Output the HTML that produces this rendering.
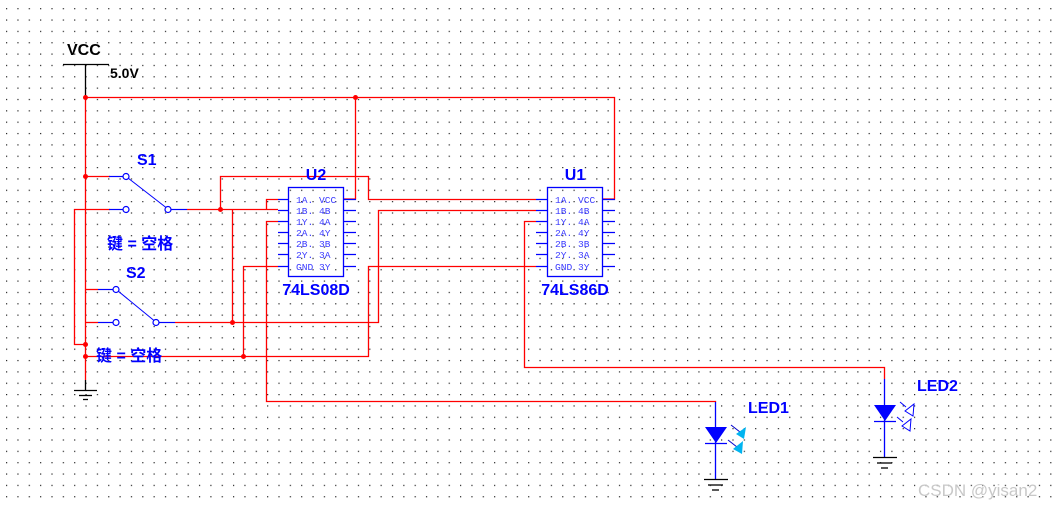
<!DOCTYPE html>
<html><head><meta charset="utf-8"><style>
html,body{margin:0;padding:0;background:#fff;}
svg{display:block;}
.lbl{font-family:"Liberation Sans",sans-serif;font-weight:bold;font-size:16px;fill:#0000ff;}
.pin{font-family:"Liberation Mono",monospace;font-size:9.6px;fill:#3a3aff;white-space:pre;}
.cn{font-family:"Liberation Sans","Noto Sans CJK SC",sans-serif;font-size:16px;font-weight:bold;fill:#0000ff;}
</style></head><body>
<svg width="1059" height="507" viewBox="0 0 1059 507" xmlns="http://www.w3.org/2000/svg">
<defs>
<pattern id="g" x="6" y="8.1" width="11.35" height="11.35" patternUnits="userSpaceOnUse">
<rect x="0" y="0" width="1.2" height="1.2" fill="#222"/>
</pattern>
</defs>
<rect width="1059" height="507" fill="#fff"/>
<rect width="1059" height="507" fill="url(#g)"/>

<text x="67" y="55" class="lbl" style="fill:#000">VCC</text>
<text x="110" y="78" class="lbl" style="fill:#000;font-size:14px">5.0V</text>
<g stroke="#000" stroke-width="1.3" fill="none">
<line x1="63" y1="64.5" x2="109" y2="64.5"/>
<line x1="85.5" y1="64" x2="85.5" y2="97"/>
<line x1="85.5" y1="380" x2="85.5" y2="390"/>
<line x1="74" y1="390.5" x2="97" y2="390.5"/>
<line x1="79" y1="395.5" x2="92" y2="395.5"/>
<line x1="83" y1="399.5" x2="88" y2="399.5"/>
</g>

<g stroke="#ff0000" stroke-width="1.3" fill="none">
<polyline points="85.5,97 85.5,380"/>
<polyline points="85.5,97.5 614.5,97.5 614.5,199 603,199"/>
<polyline points="355.5,97.5 355.5,199 344,199"/>
<polyline points="85.5,176.5 110,176.5"/>
<polyline points="110,209.5 74.5,209.5 74.5,344.5 85.5,344.5"/>
<polyline points="187,209.5 278,209.5"/>
<polyline points="220.5,209.5 220.5,176.5 368.5,176.5 368.5,199.5 536,199.5"/>
<polyline points="232.5,209.5 232.5,322.5"/>
<polyline points="278,199.5 266.5,199.5 266.5,209.5"/>
<polyline points="278,221.5 266.5,221.5 266.5,401.5 715.5,401.5 715.5,402"/>
<polyline points="278,266.5 243.5,266.5 243.5,356.5"/>
<polyline points="85.5,356.5 368.5,356.5 368.5,266.5 536,266.5"/>
<polyline points="85.5,289.5 98,289.5"/>
<polyline points="85.5,322.5 98,322.5"/>
<polyline points="175,322.5 378.5,322.5 378.5,210.5 536,210.5"/>
<polyline points="536,221.5 524.5,221.5 524.5,367.5 884.5,367.5 884.5,379"/>
</g>
<g fill="#ff0000">
<circle cx="85.5" cy="97.5" r="2.5"/><circle cx="355.5" cy="97.5" r="2.5"/>
<circle cx="85.5" cy="176.5" r="2.5"/><circle cx="220.5" cy="209.5" r="2.5"/>
<circle cx="232.5" cy="322.5" r="2.5"/><circle cx="85.5" cy="344.5" r="2.5"/>
<circle cx="85.5" cy="356.5" r="2.5"/><circle cx="243.5" cy="356.5" r="2.5"/>
</g>

<g stroke="#0000ff" stroke-width="1.2" fill="#fff">
<line x1="109" y1="176.5" x2="123" y2="176.5"/>
<line x1="109" y1="209.5" x2="123" y2="209.5"/>
<line x1="171" y1="209.5" x2="187" y2="209.5"/>
<line x1="128" y1="178" x2="166" y2="207.5" stroke-width="1"/>
<circle cx="126" cy="176.5" r="3"/><circle cx="126" cy="209.5" r="3"/><circle cx="168" cy="209.5" r="3"/>
<line x1="98" y1="289.5" x2="113" y2="289.5"/>
<line x1="98" y1="322.5" x2="113" y2="322.5"/>
<line x1="159" y1="322.5" x2="175" y2="322.5"/>
<line x1="118" y1="291" x2="154" y2="320.5" stroke-width="1"/>
<circle cx="116" cy="289.5" r="3"/><circle cx="116" cy="322.5" r="3"/><circle cx="156" cy="322.5" r="3"/>
</g>
<text x="137" y="165" class="lbl">S1</text>
<text x="126" y="278" class="lbl">S2</text>
<text x="107" y="249" class="cn">键 = 空格</text>
<text x="96" y="361" class="cn">键 = 空格</text>

<g stroke="#0000ff" stroke-width="1.3" fill="none">
<rect x="288.5" y="187.5" width="55" height="89"/>
<path d="M278 199.5h10M278 210.5h10M278 221.5h10M278 232.5h10M278 243.5h10M278 254.5h10M278 266.5h10"/>
<path d="M344 199.5h12M344 210.5h12M344 221.5h12M344 232.5h12M344 243.5h12M344 254.5h12M344 266.5h12"/>
<rect x="547.5" y="187.5" width="55" height="89"/>
<path d="M536 199.5h11M536 210.5h11M536 221.5h11M536 232.5h11M536 243.5h11M536 254.5h11M536 266.5h11"/>
<path d="M603 199.5h12M603 210.5h12M603 221.5h12M603 232.5h12M603 243.5h12M603 254.5h12M603 266.5h12"/>
</g>
<g class="pin" xml:space="preserve">
<text x="296" y="203">1A. VCC</text><text x="296" y="214">1B.  4B</text><text x="296" y="225">1Y.  4A</text>
<text x="296" y="236">2A.  4Y</text><text x="296" y="247">2B.  3B</text><text x="296" y="258">2Y.  3A</text>
<text x="296" y="270">GND  3Y</text>
<text x="555" y="203">1A. VCC</text><text x="555" y="214">1B.  4B</text><text x="555" y="225">1Y.  4A</text>
<text x="555" y="236">2A.  4Y</text><text x="555" y="247">2B.  3B</text><text x="555" y="258">2Y.  3A</text>
<text x="555" y="270">GND  3Y</text>
</g>
<text x="316" y="180" class="lbl" text-anchor="middle">U2</text>
<text x="316" y="295" class="lbl" text-anchor="middle">74LS08D</text>
<text x="575" y="180" class="lbl" text-anchor="middle">U1</text>
<text x="575" y="295" class="lbl" text-anchor="middle">74LS86D</text>

<g stroke="#0000ff" stroke-width="1.3">
<line x1="715.5" y1="402" x2="715.5" y2="479"/>
<line x1="705" y1="443.5" x2="727" y2="443.5"/>
</g>
<polygon points="705,427 727,427 716,443" fill="#0000ff"/>
<g stroke="#000" stroke-width="1.3">
<line x1="704" y1="479.5" x2="728" y2="479.5"/><line x1="708" y1="485" x2="723" y2="485"/><line x1="712" y1="490" x2="719" y2="490"/>
</g>
<g stroke="#0000cc" stroke-width="1"><line x1="731" y1="425" x2="740" y2="432"/><line x1="728" y1="440" x2="737" y2="447"/></g>
<polygon points="736,434 746,427 744,439" fill="#00b4f0"/>
<polygon points="733,449 743,441 742,454" fill="#00b4f0"/>
<text x="748" y="413" class="lbl">LED1</text>

<g stroke="#0000ff" stroke-width="1.3">
<line x1="884.5" y1="379" x2="884.5" y2="457"/>
<line x1="874" y1="421.5" x2="896" y2="421.5"/>
</g>
<polygon points="874,405 896,405 885,421" fill="#0000ff"/>
<g stroke="#000" stroke-width="1.3">
<line x1="873" y1="457.5" x2="897" y2="457.5"/><line x1="877" y1="463" x2="892" y2="463"/><line x1="881" y1="468" x2="888" y2="468"/>
</g>
<g stroke="#0000ff" stroke-width="1" fill="#fff">
<line x1="900" y1="402" x2="906" y2="407"/><line x1="897" y1="417" x2="903" y2="422"/>
<polygon points="905,411 914,404 913,416"/>
<polygon points="902,426 911,419 910,431"/>
</g>
<text x="917" y="391" class="lbl">LED2</text>

<text x="918" y="496" style="font-family:'Liberation Sans',sans-serif;font-size:17px;fill:#c8c8c8">CSDN @yisan2</text>
</svg>
</body></html>
